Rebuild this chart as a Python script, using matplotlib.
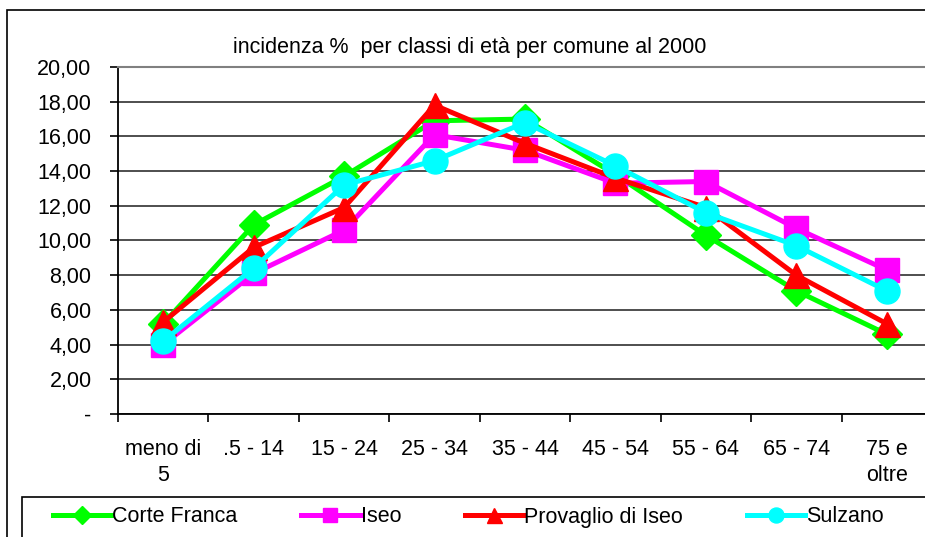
import matplotlib.pyplot as plt
from matplotlib.patches import Rectangle
from matplotlib.ticker import FixedLocator, FixedFormatter

plt.rcParams['font.family'] = ['Liberation Sans', 'DejaVu Sans']

# dati
classi = ['meno di\n5', '.5 - 14', '15 - 24', '25 - 34', '35 - 44',
          '45 - 54', '55 - 64', '65 - 74', '75 e\noltre']
corte_franca = [5.2, 10.9, 13.7, 16.9, 17.0, 13.8, 10.3, 7.1, 4.6]
iseo = [4.0, 8.1, 10.6, 16.1, 15.2, 13.3, 13.4, 10.7, 8.3]
provaglio = [5.3, 9.6, 11.9, 17.8, 15.6, 13.6, 11.9, 8.0, 5.2]
sulzano = [4.2, 8.4, 13.2, 14.6, 16.8, 14.3, 11.6, 9.7, 7.1]

y_ticks = [0, 2, 4, 6, 8, 10, 12, 14, 16, 18, 20]
y_labels = ['-', '2,00', '4,00', '6,00', '8,00', '10,00', '12,00',
            '14,00', '16,00', '18,00', '20,00']

W, H = 925, 537
fig = plt.figure(figsize=(W / 100, H / 100), dpi=100)
fs = 15.5

# cornice del grafico
fig.patches.append(Rectangle((7 / W, -0.1), 1.2, 1.1 - 10 / H, transform=fig.transFigure,
                             fill=False, edgecolor='black', lw=1.2))

ax = fig.add_axes([118 / W, 1 - 414 / H, (932 - 118) / W, (414 - 67) / H])
x = list(range(len(classi)))

ax.plot(x, corte_franca, color='#00ff00', lw=3.6, marker='D', ms=15, label='Corte Franca')
ax.plot(x, iseo, color='#ff00ff', lw=3.6, marker='s', ms=17, label='Iseo')
ax.plot(x, provaglio, color='#ff0000', lw=3.6, marker='^', ms=18, label='Provaglio di Iseo')
ax.plot(x, sulzano, color='#00ffff', lw=3.6, marker='o', ms=18, label='Sulzano')

ax.set_xlim(-0.5, len(classi) - 0.5)
ax.set_ylim(0, 20)
ax.set_yticks(y_ticks)
ax.set_yticklabels(y_labels)
ax.yaxis.grid(True, color='#303030', lw=1.2)
ax.set_axisbelow(True)

ax.xaxis.set_major_locator(FixedLocator([i - 0.5 for i in range(len(classi) + 1)]))
ax.xaxis.set_major_formatter(FixedFormatter([''] * (len(classi) + 1)))
ax.xaxis.set_minor_locator(FixedLocator(x))
ax.xaxis.set_minor_formatter(FixedFormatter(classi))
ax.tick_params(axis='x', which='major', length=6, width=1.2, direction='out')
ax.tick_params(axis='x', which='minor', length=0, pad=18, labelsize=fs)
ax.tick_params(axis='y', length=6, width=1.2, pad=13, labelsize=fs)
for lab in ax.xaxis.get_minorticklabels():
    lab.set_horizontalalignment('center')
    lab.set_linespacing(1.3)

ax.spines['right'].set_visible(False)
ax.spines['top'].set_color('#808080')
ax.spines['top'].set_linewidth(1.5)
ax.spines['left'].set_linewidth(1.3)
ax.spines['bottom'].set_linewidth(1.3)

fig.text(470 / W, 1 - 48 / H, 'incidenza %  per classi di età per comune al 2000',
         ha='center', va='center', fontsize=fs)

# riquadro legenda
fig.patches.append(Rectangle((22 / W, -0.1), 1.2, 0.1 + 1 - 497 / H, transform=fig.transFigure,
                             fill=False, edgecolor='black', lw=1.2))
fig.legend(loc='center left', bbox_to_anchor=(53 / W, 1 - 517 / H), ncol=4, frameon=False,
           fontsize=fs, handlelength=2.7, handletextpad=0.05, columnspacing=2.97,
           borderpad=0, borderaxespad=0, markerscale=0.6)

fig.savefig('out.png', dpi=100)
